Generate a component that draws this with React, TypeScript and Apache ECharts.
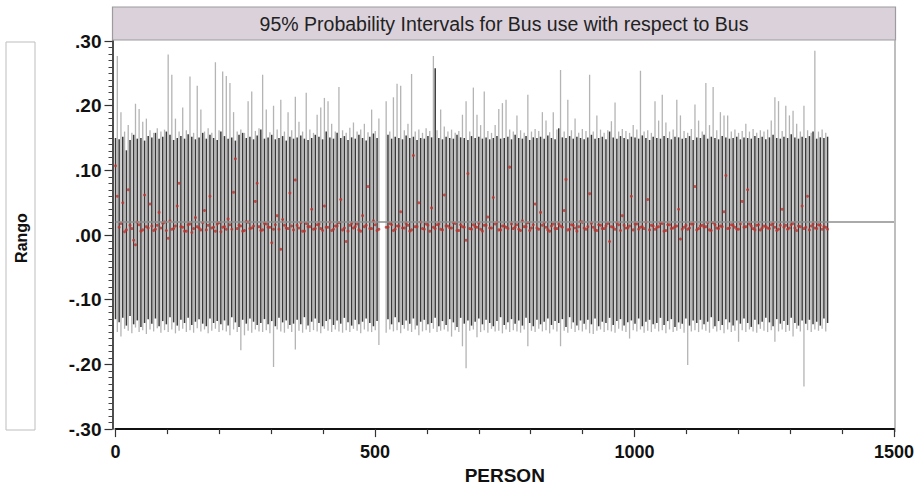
import React, { useEffect, useRef } from "react";
import * as echarts from "echarts";

// ---- data ----
const TITLE = "95% Probability Intervals for Bus use with respect to Bus";
const X_NAME = "PERSON";
const Y_NAME = "Rango";
const PERSON_STEP = 7; // persons between drawn interval columns
const LIGHT_OFFSET = 3.5; // light columns sit between dark ones
const REFERENCE_LINE = 0.018;

const darkHi = [
  .150,.148,.152,.131,.147,.155,.149,.150,.146,.153,
  .151,.158,.149,.152,.160,.155,.147,.150,.153,.149,
  .156,.152,.148,.151,.158,.149,.155,.150,.147,.160,
  .153,.149,.151,.146,.155,.158,.150,.152,.148,.154,
  .163,.149,.151,.155,.148,.150,.153,.146,.152,.149,
  .151,.154,.149,.147,.150,.155,.152,.148,.160,.151,
  .149,.158,.150,.153,.147,.151,.149,.155,.150,.146,
  .152,.157,.150,null,null,.155,.149,.152,.150,.148,
  .154,.150,.152,.147,.150,.149,.153,.151,.258,.150,
  .148,.152,.150,.149,.155,.151,.150,.147,.153,.150,
  .152,.149,.151,.148,.150,.153,.149,.150,.152,.148,
  .155,.150,.149,.153,.147,.151,.150,.152,.149,.154,
  .150,.148,.165,.151,.150,.153,.149,.152,.150,.148,
  .151,.155,.149,.150,.152,.148,.160,.151,.149,.153,
  .150,.148,.152,.151,.149,.154,.150,.147,.152,.150,
  .149,.153,.150,.148,.152,.151,.149,.150,.153,.147,
  .151,.150,.155,.149,.152,.150,.148,.153,.151,.149,
  .150,.152,.148,.151,.150,.149,.153,.150,.152,.148,
  .151,.155,.150,.149,.152,.150,.156,.151,.149,.152,
  .150,.153,.160,.149,.151,.150,.152,
];
const darkLo = [
  -.130,-.135,-.128,-.140,-.125,-.138,-.132,-.142,-.136,-.130,
  -.137,-.129,-.141,-.133,-.138,-.127,-.135,-.140,-.131,-.136,
  -.128,-.139,-.134,-.130,-.137,-.141,-.129,-.136,-.133,-.138,
  -.132,-.140,-.127,-.135,-.142,-.131,-.137,-.129,-.134,-.139,
  -.136,-.130,-.138,-.133,-.141,-.128,-.135,-.132,-.139,-.137,
  -.131,-.138,-.127,-.140,-.134,-.129,-.136,-.141,-.133,-.130,
  -.139,-.132,-.137,-.128,-.135,-.140,-.131,-.138,-.134,-.129,
  -.136,-.141,-.133,null,null,-.130,-.138,-.127,-.135,-.139,
  -.132,-.137,-.129,-.140,-.134,-.131,-.138,-.136,-.128,-.141,
  -.133,-.139,-.130,-.135,-.142,-.128,-.137,-.132,-.140,-.134,
  -.129,-.138,-.131,-.136,-.141,-.133,-.127,-.139,-.135,-.130,
  -.137,-.132,-.140,-.128,-.136,-.141,-.131,-.138,-.134,-.129,
  -.139,-.133,-.136,-.130,-.142,-.127,-.135,-.140,-.132,-.137,
  -.131,-.138,-.129,-.141,-.134,-.136,-.128,-.139,-.133,-.130,
  -.140,-.135,-.132,-.137,-.129,-.141,-.134,-.131,-.138,-.136,
  -.128,-.139,-.133,-.130,-.142,-.135,-.137,-.129,-.140,-.132,
  -.136,-.131,-.138,-.134,-.127,-.141,-.133,-.139,-.130,-.135,
  -.140,-.132,-.137,-.129,-.136,-.142,-.131,-.138,-.134,-.128,
  -.135,-.141,-.130,-.137,-.133,-.139,-.128,-.136,-.140,-.132,
  -.137,-.131,-.138,-.134,-.140,-.129,-.136,
];
const lightHi = [
  .277,.190,.160,.170,.158,.203,.195,.175,.180,.162,
  .158,.165,.160,.163,.279,.248,.180,.160,.197,.162,
  .245,.158,.231,.194,.160,.165,.158,.267,.162,.253,
  .246,.235,.190,.160,.163,.158,.207,.222,.161,.165,
  .248,.194,.159,.200,.163,.209,.160,.190,.162,.214,
  .175,.160,.220,.163,.158,.186,.197,.212,.207,.172,
  .160,.229,.162,.158,.166,.174,.160,.163,.172,.159,
  .194,.161,.180,null,.207,.160,.213,.234,.231,.162,
  .172,.249,.160,.163,.158,.165,.161,.277,.162,.194,
  .168,.160,.163,.158,.161,.186,.207,.160,.228,.186,
  .170,.222,.161,.158,.170,.195,.204,.209,.163,.160,
  .185,.162,.158,.217,.160,.164,.161,.190,.177,.159,
  .190,.163,.255,.160,.209,.162,.180,.158,.164,.161,
  .248,.160,.185,.163,.158,.162,.176,.205,.160,.164,
  .161,.158,.170,.163,.254,.160,.162,.158,.207,.177,
  .217,.174,.160,.163,.209,.185,.161,.158,.164,.202,
  .177,.160,.235,.170,.229,.162,.190,.185,.185,.160,
  .163,.158,.161,.172,.160,.164,.158,.162,.160,.163,
  .177,.213,.207,.161,.200,.185,.192,.172,.160,.200,
  .162,.158,.285,.160,.163,.158,
];
const lightLo = [
  -.150,-.157,-.145,-.148,-.152,-.143,-.150,-.147,-.153,-.146,
  -.149,-.144,-.151,-.147,-.150,-.146,-.152,-.148,-.145,-.150,
  -.147,-.151,-.144,-.149,-.146,-.152,-.148,-.145,-.150,-.147,
  -.149,-.155,-.146,-.150,-.178,-.155,-.148,-.151,-.146,-.149,
  -.150,-.147,-.152,-.204,-.146,-.149,-.151,-.145,-.150,-.177,
  -.148,-.151,-.146,-.150,-.147,-.149,-.152,-.145,-.148,-.150,
  -.146,-.149,-.151,-.147,-.150,-.145,-.148,-.152,-.146,-.149,
  -.150,-.147,-.170,null,-.151,-.146,-.149,-.147,-.152,-.145,
  -.148,-.150,-.146,-.155,-.149,-.147,-.151,-.145,-.150,-.148,
  -.146,-.149,-.157,-.147,-.150,-.172,-.206,-.148,-.146,-.158,
  -.150,-.147,-.151,-.145,-.149,-.148,-.152,-.146,-.150,-.147,
  -.149,-.151,-.146,-.172,-.148,-.150,-.145,-.149,-.147,-.152,
  -.146,-.149,-.172,-.148,-.151,-.145,-.150,-.147,-.149,-.146,
  -.152,-.153,-.148,-.146,-.150,-.147,-.149,-.151,-.145,-.148,
  -.150,-.160,-.147,-.149,-.146,-.151,-.148,-.150,-.145,-.149,
  -.147,-.152,-.146,-.150,-.148,-.145,-.151,-.201,-.149,-.147,
  -.150,-.146,-.148,-.151,-.145,-.149,-.147,-.152,-.146,-.150,
  -.148,-.165,-.147,-.150,-.146,-.149,-.151,-.145,-.148,-.150,
  -.147,-.165,-.149,-.146,-.150,-.148,-.157,-.145,-.149,-.234,
  -.147,-.150,-.146,-.148,-.145,-.149,
];
const meanDark = [
  .107,.012,.050,.008,.015,-.008,.020,.006,.062,.011,
  .014,.009,.035,.018,.007,.022,.010,.045,.013,.006,
  .016,.004,.027,.011,.019,.008,.060,.012,.017,.005,
  .013,.025,.009,.118,.015,.006,.021,.010,.014,.080,
  .007,.018,.012,-.012,.016,.009,.024,.011,.065,.008,
  .015,.019,.006,.013,.040,.010,.017,.007,.012,.020,
  .009,.014,.055,.011,.006,.018,.013,.008,.030,.015,
  .010,.022,.007,null,null,.012,.016,.009,.014,.011,
  .018,.006,.123,.013,.020,.009,.015,.042,.010,.017,
  .008,.014,.011,.019,.007,.016,.012,.095,.009,.013,
  .018,.006,.015,.011,.058,.020,.008,.014,.010,.017,
  .012,.009,.022,.013,.007,.016,.011,.035,.019,.008,
  .014,.010,.017,.012,.086,.009,.015,.006,.021,.011,
  .013,.018,.008,.016,.010,.014,-.010,.012,.019,.007,
  .015,.011,.060,.017,.009,.013,.020,.008,.014,.012,
  .018,.006,.016,.010,.013,.040,.009,.015,.011,.017,
  .008,.014,.012,.019,.007,.016,.010,.013,.092,.011,
  .015,.009,.017,.012,.070,.014,.008,.016,.011,.013,
  .010,.018,.007,.015,.012,.009,.016,.011,.014,.045,
  .012,.008,.017,.010,.015,.013,.009,
];
const meanLight = [
  .060,.018,.005,.070,.010,-.015,.016,.008,.013,.048,
  .007,.015,.011,.020,-.005,.009,.014,.080,.012,.006,
  .017,.010,.013,.008,.038,.015,.011,.006,.019,.012,
  .009,.016,.066,.010,.014,.007,.020,.011,.052,.013,
  .008,.017,.012,.009,.030,-.022,.015,.010,.014,.085,
  .011,.006,.018,.013,.009,.016,.010,.045,.012,.007,
  .014,.019,.008,-.010,.015,.011,.017,.006,.013,.075,
  .010,.016,.009,null,.012,.018,.007,.014,.036,.011,
  .015,.008,.013,.050,.010,.017,.006,.012,.016,.009,
  .062,.014,.011,.018,.007,.013,-.008,.010,.016,.012,
  .009,.015,.028,.011,.017,.008,.014,.012,.105,.010,
  .016,.007,.013,.019,.011,.048,.009,.015,.012,.006,
  .017,.010,.014,.038,.008,.016,.011,.013,.020,.009,
  .064,.012,.007,.015,.010,.018,.013,.009,.016,.030,
  .011,.014,.008,.017,.012,.010,.055,.015,.009,.013,
  .018,.007,.016,.011,.014,-.006,.012,.009,.017,.075,
  .010,.015,.013,.008,.019,.011,.014,.036,.010,.016,
  .012,.009,.052,.013,.017,.010,.015,.008,.014,.011,
  .016,.012,.009,.040,.015,.011,.018,.007,.013,.010,
  .060,.014,.011,.016,.009,.012,
];

const FONT = "'Liberation Sans', Arial, sans-serif";

function intervals(lo: (number | null)[], hi: (number | null)[], offset: number) {
  const out: number[][] = [];
  hi.forEach((h, i) => {
    const l = lo[i];
    if (h == null || l == null) return;
    out.push([i * PERSON_STEP + offset, l, h]);
  });
  return out;
}
function points(means: (number | null)[], offset: number) {
  const out: number[][] = [];
  means.forEach((m, i) => {
    if (m == null) return;
    out.push([i * PERSON_STEP + offset, m]);
  });
  return out;
}

const renderInterval = (color: string, width: number) => (_p: any, api: any) => {
  const x = api.value(0);
  const a = api.coord([x, api.value(1)]);
  const b = api.coord([x, api.value(2)]);
  return {
    type: "line",
    shape: { x1: a[0], y1: a[1], x2: b[0], y2: b[1] },
    style: { stroke: color, lineWidth: width },
  };
};

const fmtY = (v: number) => v.toFixed(2).replace(/^(-?)0\./, "$1.");
const fmtX = (v: number) => String(Math.round(v));

export default function App() {
  const ref = useRef<HTMLDivElement>(null);
  useEffect(() => {
    if (!ref.current) return;
    const chart = echarts.init(ref.current, undefined, { renderer: "svg" });
    chart.setOption({
      animation: false,
      backgroundColor: "#ffffff",
      textStyle: { fontFamily: FONT },
      grid: { left: 115.5, right: 26, top: 41, bottom: 58, containLabel: false },
      xAxis: {
        type: "value",
        min: 0,
        max: 1500,
        interval: 500,
        name: X_NAME,
        nameLocation: "middle",
        nameGap: 35,
        nameTextStyle: { fontFamily: FONT, fontWeight: "bold", fontSize: 19, color: "#111" },
        axisLine: { show: true, onZero: false, lineStyle: { color: "#111", width: 2 } },
        axisTick: { show: true, length: 8, lineStyle: { color: "#333", width: 1.2 } },
        minorTick: { show: true, splitNumber: 5, length: 5, lineStyle: { color: "#333", width: 1.2 } },
        axisLabel: { fontFamily: FONT, fontWeight: "bold", fontSize: 18, color: "#111", margin: 14, formatter: fmtX },
        splitLine: { show: false },
      },
      yAxis: {
        type: "value",
        min: -0.3,
        max: 0.3,
        interval: 0.1,
        offset: 3,
        axisLine: { show: true, onZero: false, lineStyle: { color: "#222", width: 1.6 } },
        axisTick: { show: true, length: 8, lineStyle: { color: "#333", width: 1.2 } },
        minorTick: { show: true, splitNumber: 10, length: 4, lineStyle: { color: "#444", width: 1 } },
        axisLabel: { fontFamily: FONT, fontWeight: "bold", fontSize: 19, color: "#111", margin: 11, formatter: fmtY },
        splitLine: { show: false },
      },
      graphic: [
        {
          type: "rect",
          shape: { x: 6, y: 42, width: 29, height: 388 },
          style: { fill: "#fff", stroke: "#bdbdbd", lineWidth: 1 },
        },
        {
          type: "text",
          x: 21,
          y: 238,
          rotation: Math.PI / 2,
          style: {
            text: Y_NAME,
            fontFamily: FONT,
            fontWeight: "bold",
            fontSize: 16,
            fill: "#111",
            align: "center",
            verticalAlign: "middle",
          },
        },
        {
          type: "rect",
          shape: { x: 112.5, y: 7, width: 783, height: 33 },
          style: { fill: "#dbd1db", stroke: "#9c9c9c", lineWidth: 1.2 },
        },
        {
          type: "text",
          x: 504,
          y: 24,
          style: {
            text: TITLE,
            fontFamily: FONT,
            fontSize: 19.5,
            fill: "#222",
            align: "center",
            verticalAlign: "middle",
          },
        },
        {
          type: "line",
          shape: { x1: 895, y1: 40, x2: 895, y2: 432 },
          style: { stroke: "#a8a8a8", lineWidth: 1.5 },
        },
      ],
      series: [
        {
          type: "custom",
          name: "light",
          renderItem: renderInterval("#b4b4b4", 1.3),
          encode: { x: 0, y: [1, 2] },
          data: intervals(lightLo, lightHi, LIGHT_OFFSET),
          z: 1,
          silent: true,
        },
        {
          type: "custom",
          name: "dark",
          renderItem: renderInterval("#383838", 1.5),
          encode: { x: 0, y: [1, 2] },
          data: intervals(darkLo, darkHi, 0),
          z: 2,
          silent: true,
        },
        {
          type: "scatter",
          name: "meansA",
          symbol: "circle",
          symbolSize: 3,
          itemStyle: { color: "#c22f2a" },
          data: points(meanDark, 0),
          z: 4,
          silent: true,
          markLine: {
            silent: true,
            symbol: "none",
            label: { show: false },
            lineStyle: { color: "#8e8e8e", width: 1.5, type: "solid" },
            data: [{ yAxis: REFERENCE_LINE }],
          },
        },
        {
          type: "scatter",
          name: "meansB",
          symbol: "circle",
          symbolSize: 3,
          itemStyle: { color: "#c22f2a" },
          data: points(meanLight, LIGHT_OFFSET),
          z: 4,
          silent: true,
        },
      ],
    });
    return () => chart.dispose();
  }, []);
  return (
    <div
      ref={ref}
      style={{ position: "fixed", left: 0, top: 0, width: 920, height: 490 }}
    />
  );
}
